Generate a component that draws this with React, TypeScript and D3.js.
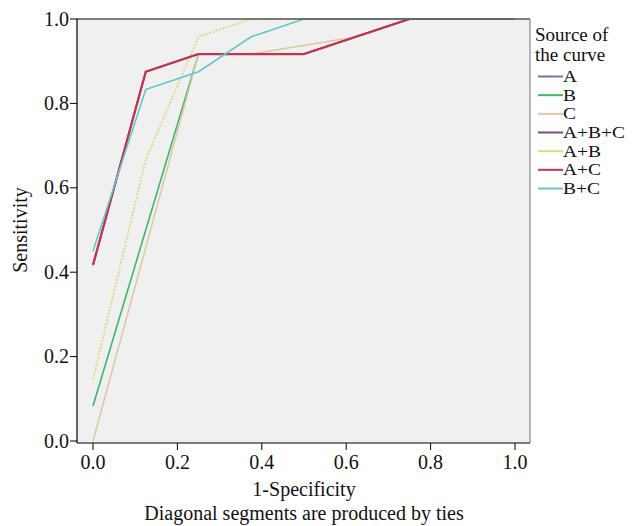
import React from "react";
import * as d3 from "d3";

const seriesNames = ["A", "B", "C", "A+B+C", "A+B", "A+C", "B+C"];
const xA = [0, 0.125, 0.25, 0.5, 0.75, 1];
const yA = [0.417, 0.875, 0.917, 0.917, 1, 1];
const xB = [0, 0.25, 0.5, 0.75, 1];
const yB = [0.083, 0.917, 0.917, 1, 1];
const xC = [0, 0.25, 0.375, 0.625, 0.75, 1];
const yC = [0, 0.917, 0.917, 0.958, 1, 1];
const xABC = [0, 0.125, 0.25, 0.5, 0.75, 1];
const yABC = [0.417, 0.875, 0.917, 0.917, 1, 1];
const xAB = [0, 0.125, 0.25, 0.375, 1];
const yAB = [0.146, 0.667, 0.958, 1, 1];
const xAC = [0, 0.125, 0.25, 0.5, 0.75, 1];
const yAC = [0.417, 0.875, 0.917, 0.917, 1, 1];
const xBC = [0, 0.125, 0.25, 0.375, 0.5, 1];
const yBC = [0.45, 0.833, 0.875, 0.958, 1, 1];

const tickValues = [0, 0.2, 0.4, 0.6, 0.8, 1.0];
const tickLabels = ["0.0", "0.2", "0.4", "0.6", "0.8", "1.0"];

const xs = [xA, xB, xC, xABC, xAB, xAC, xBC];
const ys = [yA, yB, yC, yABC, yAB, yAC, yBC];
const colors = ["#6b7a9e", "#3fb56f", "#dcc8a0", "#7a4a80", "#dedb86", "#c8324f", "#62c8cc"];
const widths = [1.6, 1.6, 1.5, 1.6, 2, 2.2, 1.6];
const dashes = [null, null, null, null, "2,1.5", null, null];

const FONT = "'Liberation Serif', 'Times New Roman', serif";

export default function App() {
  const left = 77, right = 530, top = 19, bottom = 443;
  const x = d3.scaleLinear().domain([0, 1]).range([93, 515]);
  const y = d3.scaleLinear().domain([0, 1]).range([441, 19]);
  const line = d3.line<[number, number]>().x((d) => x(d[0])).y((d) => y(d[1]));

  return (
    <svg width={633} height={526} style={{ position: "absolute", left: 0, top: 0, background: "#fff" }} fontFamily={FONT}>
      <rect x={left} y={top} width={right - left} height={bottom - top} fill="#f0f0f0" />
      <defs>
        <clipPath id="clip">
          <rect x={left} y={top - 2} width={right - left} height={bottom - top + 2} />
        </clipPath>
      </defs>
      <g clipPath="url(#clip)">
        {seriesNames.map((name, i) => (
          <path
            key={name}
            d={line(xs[i].map((v, j) => [v, ys[i][j]] as [number, number])) || ""}
            fill="none"
            stroke={colors[i]}
            strokeWidth={widths[i]}
            strokeDasharray={dashes[i] || undefined}
            strokeLinejoin="round"
          />
        ))}
      </g>
      {/* frame */}
      <line x1={left} x2={right} y1={top} y2={top} stroke="#555" strokeWidth={1.5} />
      <line x1={right} x2={right} y1={top} y2={bottom} stroke="#777" strokeWidth={1} />
      <line x1={left} x2={left} y1={top} y2={bottom} stroke="#000" strokeWidth={1.2} />
      <line x1={left} x2={right} y1={bottom} y2={bottom} stroke="#000" strokeWidth={1.2} />
      {/* y ticks */}
      {tickValues.map((t, i) => (
        <g key={"y" + i}>
          <line x1={left - 7} x2={left} y1={y(t)} y2={y(t)} stroke="#000" />
          <text x={left - 8} y={y(t) + 6.5} textAnchor="end" fontSize={20} fill="#111">
            {tickLabels[i]}
          </text>
        </g>
      ))}
      {/* x ticks */}
      {tickValues.map((t, i) => (
        <g key={"x" + i}>
          <line x1={x(t)} x2={x(t)} y1={bottom} y2={bottom + 7} stroke="#000" />
          <text x={x(t)} y={469} textAnchor="middle" fontSize={20} fill="#111">
            {tickLabels[i]}
          </text>
        </g>
      ))}
      <text x={x(0.5)} y={496} textAnchor="middle" fontSize={20} fill="#111">1-Specificity</text>
      <text x={x(0.5)} y={520} textAnchor="middle" fontSize={20} fill="#111">Diagonal segments are produced by ties</text>
      <text transform={`translate(27, ${y(0.5)}) rotate(-90)`} textAnchor="middle" fontSize={20} fill="#111">Sensitivity</text>
      {/* legend */}
      <text x={535} y={41} fontSize={19} fill="#111">Source of</text>
      <text x={535} y={61} fontSize={19} fill="#111">the curve</text>
      {seriesNames.map((name, i) => {
        const by = 82 + i * 18.67;
        return (
          <g key={"lg" + name}>
            <line x1={538} x2={563} y1={by - 5.5} y2={by - 5.5} stroke={colors[i]} strokeWidth={2} />
            <text x={0} y={0} fontSize={16} fill="#111" transform={`translate(563, ${by}) scale(1.22, 1)`}>{name}</text>
          </g>
        );
      })}
    </svg>
  );
}
